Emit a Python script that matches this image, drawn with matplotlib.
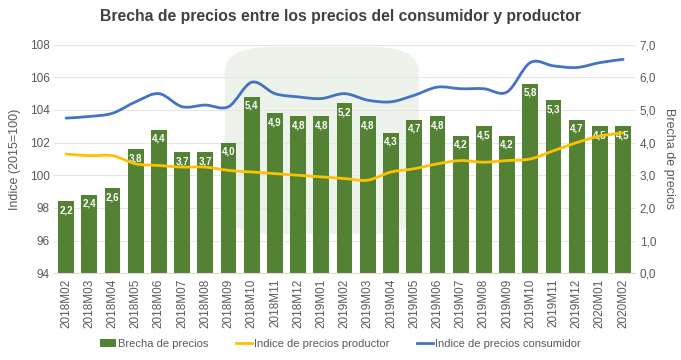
import matplotlib.pyplot as plt
from matplotlib.path import Path
from matplotlib.patches import PathPatch, FancyBboxPatch

plt.rcParams['font.family'] = ['Liberation Sans', 'DejaVu Sans']

# monthly series 2018M02 .. 2020M02
months = ["2018M02", "2018M03", "2018M04", "2018M05", "2018M06", "2018M07",
          "2018M08", "2018M09", "2018M10", "2018M11", "2018M12", "2019M01",
          "2019M02", "2019M03", "2019M04", "2019M05", "2019M06", "2019M07",
          "2019M08", "2019M09", "2019M10", "2019M11", "2019M12", "2020M01",
          "2020M02"]

brecha = [2.2, 2.4, 2.6, 3.8, 4.4, 3.7, 3.7, 4.0, 5.4, 4.9, 4.8, 4.8, 5.2,
          4.8, 4.3, 4.7, 4.8, 4.2, 4.5, 4.2, 5.8, 5.3, 4.7, 4.5, 4.5]

consumidor = [103.5, 103.6, 103.8, 104.5, 105.0, 104.2, 104.3, 104.2, 105.7,
              105.0, 104.8, 104.7, 105.0, 104.6, 104.5, 104.9, 105.4, 105.3,
              105.3, 105.1, 106.9, 106.7, 106.6, 106.9, 107.1]

productor = [101.3, 101.2, 101.2, 100.7, 100.6, 100.5, 100.5, 100.3, 100.2,
             100.1, 100.0, 99.9, 99.8, 99.7, 100.2, 100.4, 100.7, 100.9,
             100.8, 100.9, 101.0, 101.5, 102.0, 102.4, 102.6]

GREEN = "#548235"
YELLOW = "#FFC000"
BLUE = "#4472C4"
GRID = "#e6e6e6"
TXT = "#595959"


def smooth_line(ax, xs, ys, color, label):
    # excel-like smoothed line: catmull-rom segments drawn as bezier curves
    verts = [(xs[0], ys[0])]
    codes = [Path.MOVETO]
    n = len(xs)
    for i in range(n - 1):
        x0, y0 = xs[max(i - 1, 0)], ys[max(i - 1, 0)]
        x1, y1 = xs[i], ys[i]
        x2, y2 = xs[i + 1], ys[i + 1]
        x3, y3 = xs[min(i + 2, n - 1)], ys[min(i + 2, n - 1)]
        c1 = (x1 + (x2 - x0) / 6, y1 + (y2 - y0) / 6)
        c2 = (x2 - (x3 - x1) / 6, y2 - (y3 - y1) / 6)
        verts += [c1, c2, (x2, y2)]
        codes += [Path.CURVE4] * 3
    ax.add_patch(PathPatch(Path(verts, codes), fill=False, edgecolor=color,
                           lw=2.0, zorder=4, capstyle='round'))
    ax.plot([], [], color=color, lw=2.0, label=label)


fig = plt.figure(figsize=(6.81, 3.6), dpi=100)

# faint logo watermark in the background
fig.patches.append(FancyBboxPatch((0.33, 0.35), 0.285, 0.52,
                                  boxstyle="round,pad=0,rounding_size=0.07",
                                  transform=fig.transFigure, facecolor="#edf3ea",
                                  edgecolor="none", zorder=-5))

ax = fig.add_axes([0.08, 0.241, 0.852, 0.635])
ax2 = ax.twinx()
ax2.set_zorder(1)
ax.set_zorder(2)
ax.patch.set_visible(False)
ax2.patch.set_visible(False)

x = list(range(len(months)))

ax2.bar(x, brecha, width=0.68, color=GREEN, zorder=2, label="Brecha de precios")
for xi, v in zip(x, brecha):
    ax2.text(xi, v - 0.12, f"{v:.1f}".replace(".", ","), ha="center", va="top",
             color="white", fontsize=7, fontweight="bold", zorder=5)

smooth_line(ax, x, productor, YELLOW, "Indice de precios productor")
smooth_line(ax, x, consumidor, BLUE, "Indice de precios consumidor")

ax.set_ylim(94, 108)
ax.set_yticks(range(94, 109, 2))
ax2.set_ylim(0, 7)
ax2.set_yticks([i for i in range(8)])
ax2.set_yticklabels([f"{i},0" for i in range(8)])
ax.set_xlim(-0.5, len(months) - 0.5)
ax.set_xticks(x)
ax.set_xticklabels(months, rotation=90)

ax2.grid(axis="y", color=GRID, lw=0.8, zorder=0)
ax2.set_axisbelow(True)

for a in (ax, ax2):
    for s in a.spines.values():
        s.set_visible(False)
    a.tick_params(length=0, colors=TXT, labelsize=8.5)
ax.tick_params(axis="x", labelsize=8.5, pad=4)
ax2.spines["bottom"].set_visible(True)
ax2.spines["bottom"].set_color("#d9d9d9")

ax.set_ylabel("Indice (2015=100)", color=TXT, fontsize=9, labelpad=6)
ax2.set_ylabel("Brecha de precios", color=TXT, fontsize=9, rotation=270, labelpad=14)

fig.suptitle("Brecha de precios entre los precios del consumidor y productor",
             x=0.5, y=0.975, fontsize=11.3, fontweight="bold", color="#404040")

h1, l1 = ax2.get_legend_handles_labels()
h2, l2 = ax.get_legend_handles_labels()
fig.legend(h1 + h2, l1 + l2, loc="center", bbox_to_anchor=(0.5, 0.045), ncol=3,
           frameon=False, fontsize=8, labelcolor=TXT, handlelength=1.4,
           handletextpad=0.2, columnspacing=2.5)

fig.savefig("out.png", dpi=100)
